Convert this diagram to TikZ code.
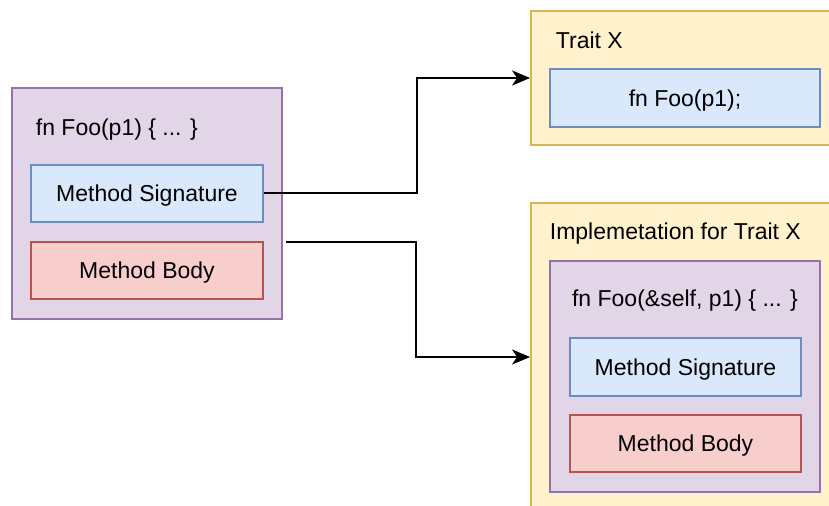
\documentclass[tikz,border=0pt]{standalone}
\usepackage{fontspec}
\setmainfont{Liberation Sans}
\usepackage{xcolor}
\usepackage{tikz}
\usetikzlibrary{arrows.meta, calc}
\definecolor{purpFill}{HTML}{E1D5E7}
\definecolor{purpLine}{HTML}{9673A6}
\definecolor{blueFill}{HTML}{DAE8FC}
\definecolor{blueLine}{HTML}{6C8EBF}
\definecolor{redFill}{HTML}{F8CECC}
\definecolor{redLine}{HTML}{B85450}
\definecolor{yelFill}{HTML}{FFF2CC}
\definecolor{yelLine}{HTML}{D6B656}

\begin{document}
\begin{tikzpicture}[x=0.5pt, y=-0.5pt, line width=0.9pt,
  every node/.style={font=\fontsize{11.5}{14}\selectfont, inner sep=0pt, text depth=0pt},
  box/.style={rectangle, draw},
  fnbox/.style={box, fill=purpFill, draw=purpLine},
  sigbox/.style={box, fill=blueFill, draw=blueLine, minimum width=116pt, minimum height=28.5pt},
  bodybox/.style={box, fill=redFill, draw=redLine, minimum width=116pt, minimum height=28.5pt},
  traitbox/.style={box, fill=yelFill, draw=yelLine, minimum width=150.5pt},
  arr/.style={-{Stealth[length=9pt, width=7.5pt, inset=2.5pt]}, line width=1pt}]
\useasboundingbox (0,0) rectangle (829,506);
\clip (0,0) rectangle (829,506);

% left: plain method
\node[fnbox, minimum width=135pt, minimum height=115.5pt] (fn) at (147,203.5) {};
\node[anchor=west] (fnlabel) at (35,127) {fn Foo(p1) \{ ... \}};
\node[sigbox] (sig) at (147,193.5) {Method Signature};
\node[bodybox] (body) at (147,270.5) {Method Body};

% trait declaration
\node[traitbox, minimum height=67pt] (trait) at (681.5,78) {};
\node[anchor=west] (traitlabel) at (555,40) {Trait X};
\node[sigbox, minimum width=135pt, minimum height=29pt] (decl) at (685,98) {fn Foo(p1);};

% trait implementation
\node[traitbox, minimum height=158.5pt] (impl) at (681.5,361.5) {};
\node[anchor=west] (impllabel) at (549,231) {Implemetation for Trait X};
\node[fnbox, minimum width=135pt, minimum height=115.5pt] (implfn) at (685,376.5) {};
\node (implfnlabel) at (685,298) {fn Foo(\&self, p1) \{ ... \}};
\node[sigbox, minimum width=115.5pt, minimum height=29pt] (implsig) at (685.5,367) {Method Signature};
\node[bodybox, minimum width=115.5pt] (implbody) at (685.5,443.5) {Method Body};

% connectors
\coordinate (src) at (286,242);
\draw[arr] (sig.east) -- ++(153,0) |- (trait.west);
\draw[arr] (src) -- ++(130,0) |- ($(impl.west)+(0,-4.5)$);
\end{tikzpicture}
\end{document}
